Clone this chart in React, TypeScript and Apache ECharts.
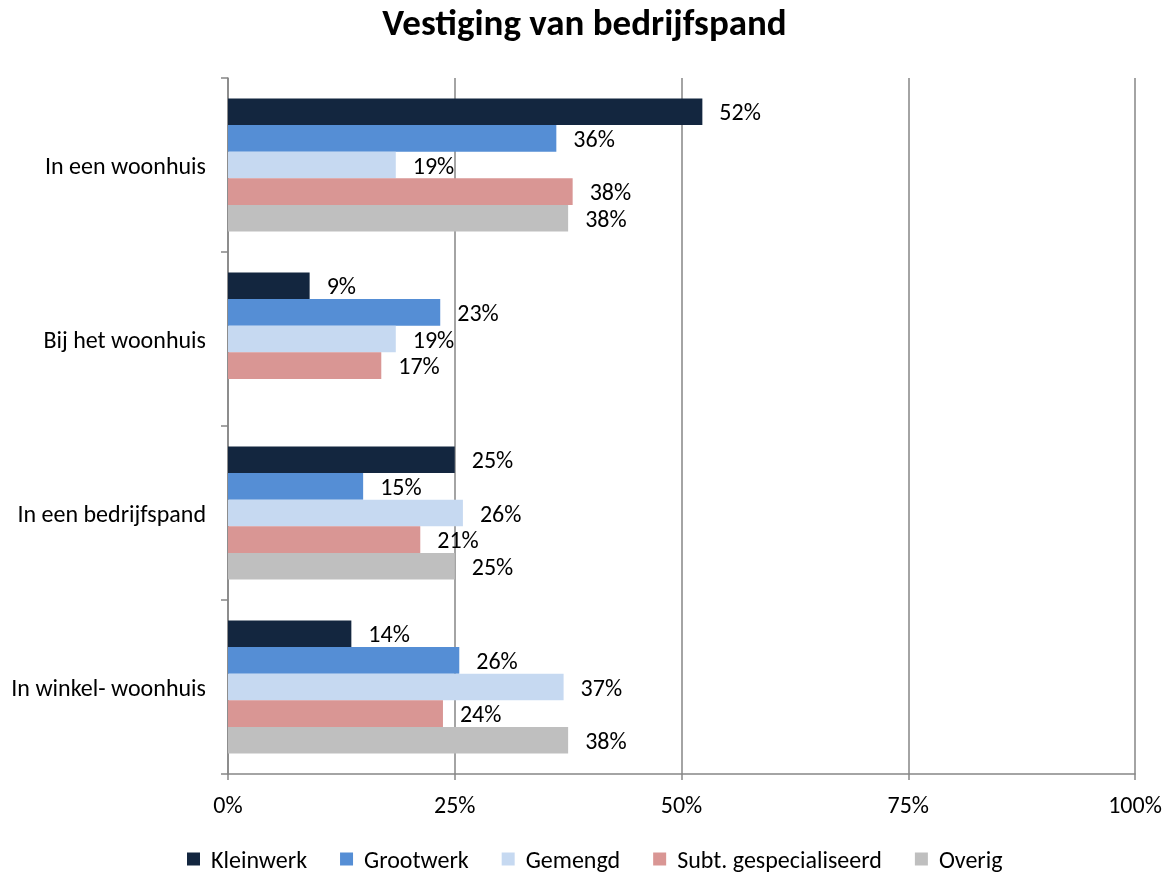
import React, { useEffect, useRef } from "react";
import * as echarts from "echarts";

const categories = ["In een woonhuis", "Bij het woonhuis", "In een bedrijfspand", "In winkel- woonhuis"];
const seriesNames = ["Kleinwerk", "Grootwerk", "Gemengd", "Subt. gespecialiseerd", "Overig"];
const kleinwerk = [0.523, 0.09, 0.25, 0.136];
const grootwerk = [0.362, 0.234, 0.149, 0.255];
const gemengd = [0.185, 0.185, 0.259, 0.37];
const subt = [0.38, 0.169, 0.212, 0.237];
const overig = [0.375, null, 0.25, 0.375];
const xTicks = [0, 0.25, 0.5, 0.75, 1];
const colors = ["#13263F", "#558ED5", "#C6D9F1", "#D99694", "#BFBFBF"];

const FONT = "Carlito, Calibri, Lato, sans-serif";
const FS = 24;

export default function App() {
  const ref = useRef<HTMLDivElement>(null);
  useEffect(() => {
    document.body.style.margin = "0";
    const chart = echarts.init(ref.current!, null, { renderer: "svg" });
    const data = [kleinwerk, grootwerk, gemengd, subt, overig];
    chart.setOption({
      animation: false,
      textStyle: { fontFamily: FONT },
      title: {
        text: "Vestiging van bedrijfspand",
        left: "center",
        top: -1,
        textStyle: { fontFamily: FONT, fontSize: 37, fontWeight: "bold", color: "#000" },
      },
      legend: {
        bottom: -3,
        left: 182,
        itemWidth: 13,
        itemHeight: 13,
        itemGap: 33,
        icon: "rect",
        textStyle: { fontFamily: FONT, fontSize: FS, color: "#000", padding: [0, 0, 0, 6] },
        data: seriesNames,
      },
      grid: { left: 228, right: 34, top: 78, bottom: 99, containLabel: false },
      xAxis: {
        type: "value",
        min: xTicks[0],
        max: xTicks[xTicks.length - 1],
        interval: 0.25,
        axisLine: { show: true, lineStyle: { color: "#868686", width: 1.5 } },
        axisTick: { show: true, length: 6, lineStyle: { color: "#868686", width: 1.5 } },
        splitLine: { show: true, lineStyle: { color: "#868686", width: 1.5 } },
        axisLabel: {
          formatter: (v: number) => Math.round(v * 100) + "%",
          fontFamily: FONT,
          fontSize: FS,
          color: "#000",
          margin: 18,
        },
      },
      yAxis: {
        type: "category",
        data: categories,
        inverse: true,
        axisLine: { show: true, lineStyle: { color: "#868686", width: 1.5 } },
        axisTick: { show: true, length: 7, lineStyle: { color: "#868686", width: 1.5 } },
        axisLabel: { fontFamily: FONT, fontSize: FS, color: "#000", margin: 22 },
      },
      series: seriesNames.map((name, i) => ({
        name,
        type: "bar",
        data: data[i],
        barGap: "0%",
        barCategoryGap: "23.5%",
        itemStyle: { color: colors[i] },
        label: {
          show: true,
          position: "right",
          distance: 17,
          formatter: (p: any) => Math.round(p.value * 100) + "%",
          fontFamily: FONT,
          fontSize: FS,
          color: "#000",
        },
      })),
    });
    return () => chart.dispose();
  }, []);
  return <div ref={ref} style={{ position: "fixed", left: 0, top: 0, width: 1169, height: 873 }} />;
}
